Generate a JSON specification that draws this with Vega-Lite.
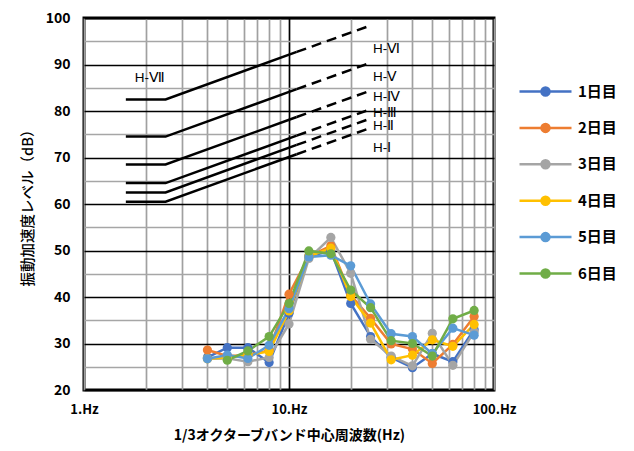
{
  "$schema": "https://vega.github.io/schema/vega-lite/v6.json",
  "width": 410,
  "height": 372,
  "autosize": {"type": "none"},
  "padding": {"left": 84, "top": 18, "right": 140, "bottom": 61},
  "background": "white",
  "config": {
    "font": "Noto Sans CJK JP",
    "view": {"stroke": "black", "strokeWidth": 3},
    "axis": {"domain": false, "ticks": false, "labelColor": "black", "titleColor": "black", "labelFont": "Noto Sans CJK JP", "titleFont": "Noto Sans CJK JP"}
  },
  "datasets": {
    "curves": [
      {"curve": "H7", "seg": "solid", "f": 1.6, "db": 82.5},
      {"curve": "H7", "seg": "solid", "f": 2.5, "db": 82.5},
      {"curve": "H7", "seg": "solid", "f": 10.9, "db": 92.7},
      {"curve": "H7", "seg": "dash", "f": 10.9, "db": 92.7},
      {"curve": "H7", "seg": "dash", "f": 24, "db": 98.1},
      {"curve": "H6", "seg": "solid", "f": 1.6, "db": 74.5},
      {"curve": "H6", "seg": "solid", "f": 2.5, "db": 74.5},
      {"curve": "H6", "seg": "solid", "f": 10.9, "db": 84.7},
      {"curve": "H6", "seg": "dash", "f": 10.9, "db": 84.7},
      {"curve": "H6", "seg": "dash", "f": 24, "db": 90.1},
      {"curve": "H5", "seg": "solid", "f": 1.6, "db": 68.5},
      {"curve": "H5", "seg": "solid", "f": 2.5, "db": 68.5},
      {"curve": "H5", "seg": "solid", "f": 10.9, "db": 78.7},
      {"curve": "H5", "seg": "dash", "f": 10.9, "db": 78.7},
      {"curve": "H5", "seg": "dash", "f": 24, "db": 84.1},
      {"curve": "H4", "seg": "solid", "f": 1.6, "db": 64.5},
      {"curve": "H4", "seg": "solid", "f": 2.5, "db": 64.5},
      {"curve": "H4", "seg": "solid", "f": 10.9, "db": 74.7},
      {"curve": "H4", "seg": "dash", "f": 10.9, "db": 74.7},
      {"curve": "H4", "seg": "dash", "f": 24, "db": 80.1},
      {"curve": "H3", "seg": "solid", "f": 1.6, "db": 62.5},
      {"curve": "H3", "seg": "solid", "f": 2.5, "db": 62.5},
      {"curve": "H3", "seg": "solid", "f": 10.9, "db": 72.7},
      {"curve": "H3", "seg": "dash", "f": 10.9, "db": 72.7},
      {"curve": "H3", "seg": "dash", "f": 24, "db": 78.1},
      {"curve": "H2", "seg": "solid", "f": 1.6, "db": 60.5},
      {"curve": "H2", "seg": "solid", "f": 2.5, "db": 60.5},
      {"curve": "H2", "seg": "solid", "f": 10.9, "db": 70.7},
      {"curve": "H2", "seg": "dash", "f": 10.9, "db": 70.7},
      {"curve": "H2", "seg": "dash", "f": 24, "db": 76.1}
    ],
    "labels": [
      {"label": "H-Ⅶ", "f": 1.77, "db": 87.1},
      {"label": "H-Ⅵ", "f": 25.7, "db": 93.4},
      {"label": "H-Ⅴ", "f": 25.7, "db": 87.3},
      {"label": "H-Ⅳ", "f": 25.7, "db": 83.0},
      {"label": "H-Ⅲ", "f": 25.7, "db": 79.6},
      {"label": "H-Ⅱ", "f": 25.7, "db": 76.8},
      {"label": "H-Ⅰ", "f": 25.7, "db": 72.0}
    ],
    "obs": [
      {"day": "1日目", "f": 4, "db": 27.0},
      {"day": "1日目", "f": 5, "db": 29.1},
      {"day": "1日目", "f": 6.3, "db": 29.1},
      {"day": "1日目", "f": 8, "db": 25.9},
      {"day": "1日目", "f": 10, "db": 36.5},
      {"day": "1日目", "f": 12.5, "db": 48.7},
      {"day": "1日目", "f": 16, "db": 50.0},
      {"day": "1日目", "f": 20, "db": 38.6},
      {"day": "1日目", "f": 25, "db": 31.5},
      {"day": "1日目", "f": 31.5, "db": 27.0},
      {"day": "1日目", "f": 40, "db": 24.8},
      {"day": "1日目", "f": 50, "db": 27.8},
      {"day": "1日目", "f": 63, "db": 26.1},
      {"day": "1日目", "f": 80, "db": 33.0},
      {"day": "2日目", "f": 4, "db": 28.6},
      {"day": "2日目", "f": 5, "db": 27.3},
      {"day": "2日目", "f": 6.3, "db": 27.5},
      {"day": "2日目", "f": 8, "db": 28.5},
      {"day": "2日目", "f": 10, "db": 40.6},
      {"day": "2日目", "f": 12.5, "db": 48.8},
      {"day": "2日目", "f": 16, "db": 51.0},
      {"day": "2日目", "f": 20, "db": 40.4},
      {"day": "2日目", "f": 25, "db": 35.4},
      {"day": "2日目", "f": 31.5, "db": 29.9},
      {"day": "2日目", "f": 40, "db": 28.8},
      {"day": "2日目", "f": 50, "db": 25.7},
      {"day": "2日目", "f": 63, "db": 29.8},
      {"day": "2日目", "f": 80, "db": 35.8},
      {"day": "3日目", "f": 4, "db": 26.7},
      {"day": "3日目", "f": 5, "db": 26.8},
      {"day": "3日目", "f": 6.3, "db": 26.1},
      {"day": "3日目", "f": 8, "db": 27.0},
      {"day": "3日目", "f": 10, "db": 34.2},
      {"day": "3日目", "f": 12.5, "db": 48.3},
      {"day": "3日目", "f": 16, "db": 52.8},
      {"day": "3日目", "f": 20, "db": 45.1},
      {"day": "3日目", "f": 25, "db": 30.9},
      {"day": "3日目", "f": 31.5, "db": 27.3},
      {"day": "3日目", "f": 40, "db": 25.2},
      {"day": "3日目", "f": 50, "db": 32.2},
      {"day": "3日目", "f": 63, "db": 25.3},
      {"day": "3日目", "f": 80, "db": 32.5},
      {"day": "4日目", "f": 4, "db": 26.7},
      {"day": "4日目", "f": 5, "db": 27.0},
      {"day": "4日目", "f": 6.3, "db": 27.5},
      {"day": "4日目", "f": 8, "db": 28.3},
      {"day": "4日目", "f": 10, "db": 37.0},
      {"day": "4日目", "f": 12.5, "db": 48.7},
      {"day": "4日目", "f": 16, "db": 50.5},
      {"day": "4日目", "f": 20, "db": 40.1},
      {"day": "4日目", "f": 25, "db": 34.4},
      {"day": "4日目", "f": 31.5, "db": 26.5},
      {"day": "4日目", "f": 40, "db": 27.5},
      {"day": "4日目", "f": 50, "db": 30.8},
      {"day": "4日目", "f": 63, "db": 29.4},
      {"day": "4日目", "f": 80, "db": 34.1},
      {"day": "5日目", "f": 4, "db": 26.7},
      {"day": "5日目", "f": 5, "db": 27.5},
      {"day": "5日目", "f": 6.3, "db": 26.8},
      {"day": "5日目", "f": 8, "db": 29.6},
      {"day": "5日目", "f": 10, "db": 37.5},
      {"day": "5日目", "f": 12.5, "db": 48.6},
      {"day": "5日目", "f": 16, "db": 49.0},
      {"day": "5日目", "f": 20, "db": 46.7},
      {"day": "5日目", "f": 25, "db": 38.5},
      {"day": "5日目", "f": 31.5, "db": 32.1},
      {"day": "5日目", "f": 40, "db": 31.5},
      {"day": "5日目", "f": 50, "db": 27.8},
      {"day": "5日目", "f": 63, "db": 33.3},
      {"day": "5日目", "f": 80, "db": 31.8},
      {"day": "6日目", "f": 5, "db": 26.4},
      {"day": "6日目", "f": 6.3, "db": 28.4},
      {"day": "6日目", "f": 8, "db": 31.5},
      {"day": "6日目", "f": 10, "db": 38.6},
      {"day": "6日目", "f": 12.5, "db": 49.9},
      {"day": "6日目", "f": 16, "db": 49.3},
      {"day": "6日目", "f": 20, "db": 41.5},
      {"day": "6日目", "f": 25, "db": 37.7},
      {"day": "6日目", "f": 31.5, "db": 30.6},
      {"day": "6日目", "f": 40, "db": 30.0},
      {"day": "6日目", "f": 50, "db": 27.3},
      {"day": "6日目", "f": 63, "db": 35.3},
      {"day": "6日目", "f": 80, "db": 37.1}
    ]
  },
  "encoding": {
    "x": {
      "field": "f",
      "type": "quantitative",
      "scale": {"type": "log", "domain": [1, 100], "nice": false},
      "axis": {
        "values": [1, 2, 3, 4, 5, 6, 7, 8, 9, 10, 20, 30, 40, 50, 60, 70, 80, 90, 100],
        "labelExpr": "datum.value == 1 || datum.value == 10 || datum.value == 100 ? datum.value + '.Hz' : ''",
        "labelFontSize": 13,
        "labelFontWeight": "bold",
        "labelPadding": 13,
        "labelFlush": false,
        "labelOverlap": false,
        "gridColor": {"condition": {"test": "datum.value == 10", "value": "black"}, "value": "#a0a0a0"},
        "gridWidth": 1.7,
        "title": "1/3オクターブバンド中心周波数(Hz)",
        "titleFontSize": 14,
        "titleFontWeight": "bold",
        "titlePadding": 12
      }
    },
    "y": {
      "field": "db",
      "type": "quantitative",
      "scale": {"domain": [20, 100], "nice": false},
      "axis": {
        "values": [20, 25, 30, 35, 40, 45, 50, 55, 60, 65, 70, 75, 80, 85, 90, 95, 100],
        "labelExpr": "datum.value % 10 == 0 ? datum.value : ''",
        "labelFontSize": 14,
        "labelFontWeight": "bold",
        "labelPadding": 14,
        "labelOverlap": false,
        "gridColor": {"condition": {"test": "datum.value % 10 == 0", "value": "black"}, "value": "#a6a6a6"},
        "gridWidth": {"condition": {"test": "datum.value % 10 == 0", "value": 1.3}, "value": 1.6},
        "title": "振動加速度レベル（dB）",
        "titleFontSize": 14.5,
        "titleFontWeight": 500,
        "titlePadding": 10
      }
    }
  },
  "layer": [
    {
      "data": {"name": "curves"},
      "transform": [{"filter": "datum.seg == 'solid'"}],
      "mark": {"type": "line", "color": "black", "strokeWidth": 2.5},
      "encoding": {"detail": {"field": "curve"}}
    },
    {
      "data": {"name": "curves"},
      "transform": [{"filter": "datum.seg == 'dash'"}],
      "mark": {"type": "line", "color": "black", "strokeWidth": 2.5, "strokeDash": [10, 6]},
      "encoding": {"detail": {"field": "curve"}}
    },
    {
      "data": {"name": "labels"},
      "mark": {"type": "text", "align": "left", "baseline": "middle", "fontSize": 13.5, "font": "Liberation Sans", "color": "black"},
      "encoding": {"text": {"field": "label"}}
    },
    {
      "data": {"name": "obs"},
      "mark": {"type": "line", "strokeWidth": 2.5},
      "encoding": {
        "color": {
          "field": "day",
          "type": "nominal",
          "scale": {"domain": ["1日目", "2日目", "3日目", "4日目", "5日目", "6日目"], "range": ["#4472C4", "#ED7D31", "#A5A5A5", "#FFC000", "#5B9BD5", "#70AD47"]},
          "legend": {
            "orient": "none",
            "legendX": 450,
            "legendY": 62,
            "title": null,
            "padding": 0,
            "symbolType": "M-2.6,0L2.6,0M-0.4,0A0.4,0.4,0,1,0,0.4,0A0.4,0.4,0,1,0,-0.4,0Z",
            "symbolSize": 400,
            "symbolStrokeWidth": 2.5,
            "labelOffset": 21,
            "rowPadding": 15.4,
            "labelFontSize": 15,
            "labelFontWeight": "bold",
            "labelColor": "black",
            "labelFont": "Noto Sans CJK JP"
          }
        }
      }
    },
    {
      "data": {"name": "obs"},
      "mark": {"type": "circle", "size": 85, "opacity": 1},
      "encoding": {
        "color": {"field": "day", "type": "nominal"}
      }
    }
  ]
}
